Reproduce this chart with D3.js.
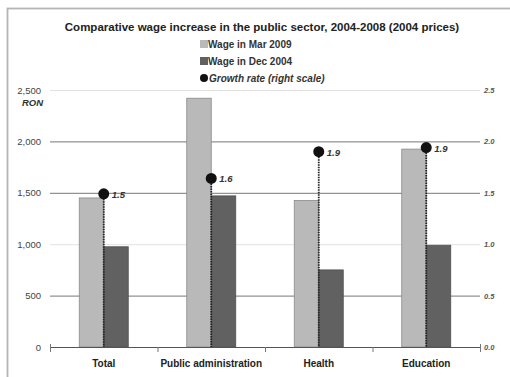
<!DOCTYPE html>
<html>
<head>
<meta charset="utf-8">
<script src="https://cdn.jsdelivr.net/npm/d3@7"></script>
<style>
  body { margin: 0; background: #fff; }
  text { font-family: "Liberation Sans", Arial, sans-serif; }
</style>
</head>
<body>
<div id="chart"></div>
<script>
// chart data
var categories = ["Total", "Public administration", "Health", "Education"];
var wageMar2009 = [1450, 2420, 1425, 1925];
var wageDec2004 = [975, 1470, 750, 990];
var growthRate = [1.49, 1.64, 1.9, 1.94];
var leftTicks = [0, 500, 1000, 1500, 2000, 2500];
var rightTicks = [0, 0.5, 1.0, 1.5, 2.0, 2.5];
var seriesNames = ["Wage in Mar 2009", "Wage in Dec 2004", "Growth rate (right scale)"];

function init(){

  var w = 510;
  var h = 377;

  var svg = d3.select("#chart")
    .append("svg")
    .attr("width", w)
    .attr("height", h);

  // frame (top and left edges visible)
  svg.append("rect")
    .attr("x", 7.5).attr("y", 8.5)
    .attr("width", 540).attr("height", 400)
    .attr("fill", "none")
    .attr("stroke", "#b5b5b5")
    .attr("stroke-width", 1.8);

  var left = 50, right = 480, top = 90, bottom = 347;

  var xScale = d3.scaleBand()
    .domain(categories)
    .range([left, right])
    .paddingInner(0)
    .paddingOuter(0);

  var yScale = d3.scaleLinear().domain([0, 2500]).range([bottom, top]);
  var yRight = d3.scaleLinear().domain([0, 2.5]).range([bottom, top]);

  var barW = 24.5;

  // gridlines
  svg.append("g")
    .selectAll("line")
    .data(leftTicks.filter(function(d){ return d > 0; }))
    .enter()
    .append("line")
    .attr("x1", left)
    .attr("x2", right)
    .attr("y1", function(d){ return yScale(d) + 0.5; })
    .attr("y2", function(d){ return yScale(d) + 0.5; })
    .attr("stroke", function(d){ return (d == 2500 || d == 1000) ? "#e2e2e2" : "#777"; })
    .attr("stroke-width", 1);

  // left axis labels
  svg.append("g")
    .selectAll("text")
    .data(leftTicks)
    .enter()
    .append("text")
    .attr("x", 41)
    .attr("y", function(d){ return yScale(d) + 3.5; })
    .attr("text-anchor", "end")
    .attr("font-size", 9.5)
    .attr("fill", "#444")
    .text(d3.format(","));

  svg.append("text")
    .attr("x", 43).attr("y", 106)
    .attr("text-anchor", "end")
    .attr("font-size", 9.5)
    .attr("font-weight", "bold")
    .attr("font-style", "italic")
    .attr("fill", "#333")
    .text("RON");

  // right axis labels
  svg.append("g")
    .selectAll("text")
    .data(rightTicks)
    .enter()
    .append("text")
    .attr("x", 484)
    .attr("y", function(d){ return yRight(d) + 3; })
    .attr("font-size", 7.5)
    .attr("font-weight", "bold")
    .attr("font-style", "italic")
    .attr("fill", "#555")
    .text(d3.format(".1f"));

  // bars
  svg.append("g")
    .selectAll("rect")
    .data(categories)
    .enter()
    .append("rect")
    .attr("x", function(d){ return xScale(d) + xScale.bandwidth() / 2 - barW; })
    .attr("y", function(d, i){ return yScale(wageMar2009[i]); })
    .attr("width", barW)
    .attr("height", function(d, i){ return bottom - yScale(wageMar2009[i]); })
    .attr("fill", "#b9b9b9")
    .attr("stroke", "#8a8a8a")
    .attr("stroke-width", 0.8);

  svg.append("g")
    .selectAll("rect")
    .data(categories)
    .enter()
    .append("rect")
    .attr("x", function(d){ return xScale(d) + xScale.bandwidth() / 2; })
    .attr("y", function(d, i){ return yScale(wageDec2004[i]); })
    .attr("width", barW)
    .attr("height", function(d, i){ return bottom - yScale(wageDec2004[i]); })
    .attr("fill", "#616161")
    .attr("stroke", "#505050")
    .attr("stroke-width", 0.8);

  // x axis
  svg.append("line")
    .attr("x1", left).attr("x2", right)
    .attr("y1", bottom + 0.5).attr("y2", bottom + 0.5)
    .attr("stroke", "#555");

  var tickPos = categories.map(function(d){ return xScale(d); });
  tickPos.push(right);
  svg.append("g")
    .selectAll("line")
    .data(tickPos)
    .enter()
    .append("line")
    .attr("x1", function(d){ return d + 0.5; })
    .attr("x2", function(d){ return d + 0.5; })
    .attr("y1", function(d, i){ return (i == 0 || i == 4) ? bottom - 3 : bottom; })
    .attr("y2", bottom + 5)
    .attr("stroke", "#777");

  svg.append("g")
    .selectAll("text")
    .data(categories)
    .enter()
    .append("text")
    .attr("x", function(d){ return xScale(d) + xScale.bandwidth() / 2; })
    .attr("y", 367)
    .attr("text-anchor", "middle")
    .attr("font-size", 10)
    .attr("font-weight", "bold")
    .attr("fill", "#222")
    .text(function(d){ return d; });

  // growth rate drop lines and dots
  svg.append("g")
    .selectAll("line")
    .data(categories)
    .enter()
    .append("line")
    .attr("x1", function(d){ return xScale(d) + xScale.bandwidth() / 2; })
    .attr("x2", function(d){ return xScale(d) + xScale.bandwidth() / 2; })
    .attr("y1", function(d, i){ return yRight(growthRate[i]); })
    .attr("y2", bottom)
    .attr("stroke", "#222")
    .attr("stroke-width", 1.8)
    .attr("stroke-dasharray", "1.5,1");

  svg.append("g")
    .selectAll("circle")
    .data(categories)
    .enter()
    .append("circle")
    .attr("cx", function(d){ return xScale(d) + xScale.bandwidth() / 2; })
    .attr("cy", function(d, i){ return yRight(growthRate[i]); })
    .attr("r", 5.5)
    .attr("fill", "#111");

  svg.append("g")
    .selectAll("text")
    .data(categories)
    .enter()
    .append("text")
    .attr("x", function(d){ return xScale(d) + xScale.bandwidth() / 2 + 8; })
    .attr("y", function(d, i){ return yRight(growthRate[i]) + 4; })
    .attr("font-size", 9.5)
    .attr("font-weight", "bold")
    .attr("font-style", "italic")
    .attr("fill", "#333")
    .text(function(d, i){ return growthRate[i].toFixed(1); });

  // title
  svg.append("text")
    .attr("x", 262).attr("y", 31)
    .attr("text-anchor", "middle")
    .attr("font-size", 11.5)
    .attr("font-weight", "bold")
    .attr("fill", "#222")
    .text("Comparative wage increase in the public sector, 2004-2008 (2004 prices)");

  // legend
  var legend = svg.append("g");
  var legendY = [44, 61, 78];
  var legendFill = ["#b9b9b9", "#616161", "#111"];
  legend.selectAll("rect")
    .data([0, 1])
    .enter()
    .append("rect")
    .attr("x", 200)
    .attr("y", function(d){ return legendY[d] - 4; })
    .attr("width", 8)
    .attr("height", 8)
    .attr("fill", function(d){ return legendFill[d]; });
  legend.append("circle")
    .attr("cx", 204).attr("cy", legendY[2])
    .attr("r", 4)
    .attr("fill", legendFill[2]);
  legend.selectAll("text")
    .data(seriesNames)
    .enter()
    .append("text")
    .attr("x", function(d, i){ return i == 2 ? 209 : 208; })
    .attr("y", function(d, i){ return legendY[i] + 3.5; })
    .attr("font-size", 10)
    .attr("font-weight", "bold")
    .attr("font-style", function(d, i){ return i == 2 ? "italic" : "normal"; })
    .attr("fill", "#333")
    .text(function(d){ return d; });
}

window.onload = init;
</script>
</body>
</html>
